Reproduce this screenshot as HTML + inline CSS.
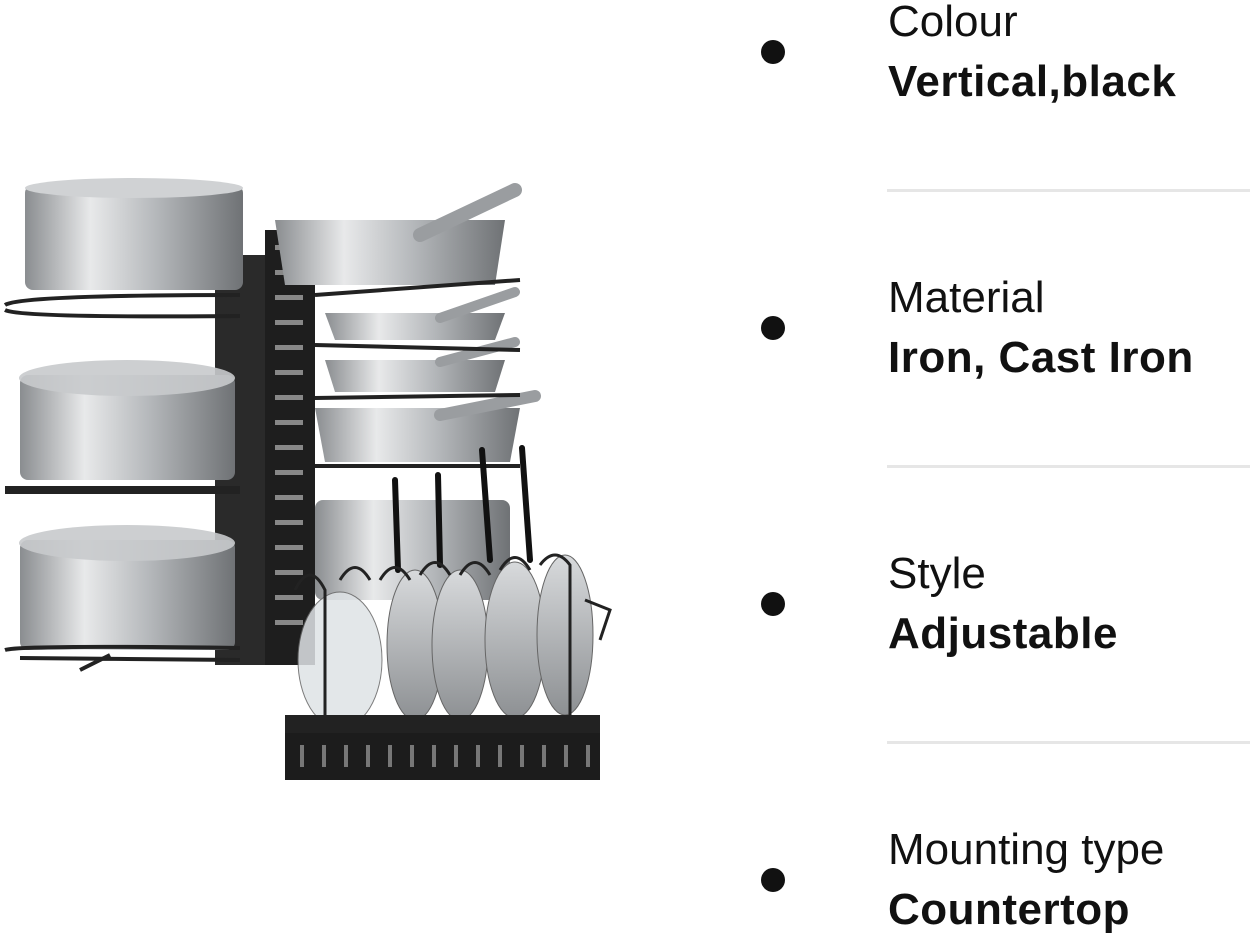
<!DOCTYPE html>
<html><head><meta charset="utf-8"><style>
html,body{margin:0;padding:0;background:#fff;width:1250px;height:935px;overflow:hidden;position:relative;font-family:"Liberation Sans",sans-serif;color:#111}
.b{position:absolute;left:761px;width:24px;height:24px;border-radius:50%;background:#111}
.t{position:absolute;left:888px;font-size:44px;line-height:1;white-space:nowrap}
.k{font-weight:bold;letter-spacing:0.5px}
.sep{position:absolute;left:887px;width:363px;height:3px;background:#e6e6e6}
svg{position:absolute;left:0;top:0}
</style></head><body>
<svg width="640" height="800" viewBox="0 0 640 800">
<defs>
<linearGradient id="m" x1="0" x2="1"><stop offset="0" stop-color="#8a8d90"/><stop offset="0.3" stop-color="#e8e9ea"/><stop offset="0.6" stop-color="#b5b8bb"/><stop offset="1" stop-color="#6f7275"/></linearGradient>
<linearGradient id="m2" x1="0" x2="0" y1="0" y2="1"><stop offset="0" stop-color="#d8dadc"/><stop offset="1" stop-color="#8d9093"/></linearGradient>
</defs>
<rect x="215" y="255" width="50" height="410" fill="#2a2a2a"/>
<rect x="265" y="230" width="50" height="435" fill="#1e1e1e"/>
<g fill="#888">
<rect x="275" y="245" width="28" height="5"/><rect x="275" y="270" width="28" height="5"/><rect x="275" y="295" width="28" height="5"/><rect x="275" y="320" width="28" height="5"/><rect x="275" y="345" width="28" height="5"/><rect x="275" y="370" width="28" height="5"/><rect x="275" y="395" width="28" height="5"/><rect x="275" y="420" width="28" height="5"/><rect x="275" y="445" width="28" height="5"/><rect x="275" y="470" width="28" height="5"/><rect x="275" y="495" width="28" height="5"/><rect x="275" y="520" width="28" height="5"/><rect x="275" y="545" width="28" height="5"/><rect x="275" y="570" width="28" height="5"/><rect x="275" y="595" width="28" height="5"/><rect x="275" y="620" width="28" height="5"/>
</g>
<rect x="25" y="185" width="218" height="105" rx="8" fill="url(#m)"/>
<ellipse cx="134" cy="188" rx="109" ry="10" fill="#d0d2d4"/>
<rect x="20" y="375" width="215" height="105" rx="8" fill="url(#m)"/>
<ellipse cx="127" cy="378" rx="108" ry="18" fill="#c8cacc" opacity=".9"/>
<rect x="20" y="540" width="215" height="110" rx="8" fill="url(#m)"/>
<ellipse cx="127" cy="543" rx="108" ry="18" fill="#c8cacc" opacity=".9"/>
<g stroke="#222" stroke-width="4" fill="none">
<path d="M5 305 Q20 295 240 295 M5 310 Q20 318 240 316"/>
<path d="M5 488 L240 488 M5 492 L240 492"/>
<path d="M5 650 Q20 645 240 648 M20 658 L240 660 M80 670 L110 655"/>
</g>
<path d="M275 220 L505 220 L495 285 L285 285 Z" fill="url(#m)"/>
<path d="M420 235 L515 190" stroke="#9a9da0" stroke-width="14" stroke-linecap="round"/>
<path d="M325 313 L505 313 L495 340 L335 340 Z" fill="url(#m)"/>
<path d="M440 318 L515 292" stroke="#9a9da0" stroke-width="10" stroke-linecap="round"/>
<path d="M325 360 L505 360 L495 392 L335 392 Z" fill="url(#m)"/>
<path d="M440 362 L515 342" stroke="#9a9da0" stroke-width="10" stroke-linecap="round"/>
<path d="M315 408 L520 408 L510 462 L325 462 Z" fill="url(#m)"/>
<path d="M440 415 L535 396" stroke="#9a9da0" stroke-width="12" stroke-linecap="round"/>
<g stroke="#222" stroke-width="4" fill="none">
<path d="M315 295 L520 280 M315 345 L520 350 M315 398 L520 395 M315 466 L520 466"/>
</g>
<rect x="315" y="500" width="195" height="100" rx="8" fill="url(#m)"/>
<g fill="url(#m2)" stroke="#666" stroke-width="1">
<ellipse cx="340" cy="660" rx="42" ry="68" fill="#dfe3e6" opacity=".85"/>
<ellipse cx="415" cy="645" rx="28" ry="75"/>
<ellipse cx="460" cy="645" rx="28" ry="75"/>
<ellipse cx="515" cy="640" rx="30" ry="78"/>
<ellipse cx="565" cy="635" rx="28" ry="80"/>
</g>
<g stroke="#111" stroke-width="6" stroke-linecap="round">
<path d="M395 480 L398 570 M438 475 L440 565 M482 450 L490 560 M522 448 L530 560"/>
</g>
<g stroke="#222" stroke-width="3" fill="none">
<path d="M295 590 Q310 560 325 590 L325 715 M340 580 Q355 555 370 580 M380 580 Q395 555 410 580 M420 575 Q435 550 450 575 M460 575 Q475 550 490 575 M500 570 Q515 545 530 570 M540 565 Q555 545 570 565 L570 715 M585 600 L610 610 L600 640"/>
</g>
<rect x="285" y="715" width="315" height="18" fill="#222"/>
<rect x="285" y="733" width="315" height="47" fill="#1c1c1c"/>
<g fill="#777"><rect x="300" y="745" width="4" height="22"/><rect x="322" y="745" width="4" height="22"/><rect x="344" y="745" width="4" height="22"/><rect x="366" y="745" width="4" height="22"/><rect x="388" y="745" width="4" height="22"/><rect x="410" y="745" width="4" height="22"/><rect x="432" y="745" width="4" height="22"/><rect x="454" y="745" width="4" height="22"/><rect x="476" y="745" width="4" height="22"/><rect x="498" y="745" width="4" height="22"/><rect x="520" y="745" width="4" height="22"/><rect x="542" y="745" width="4" height="22"/><rect x="564" y="745" width="4" height="22"/><rect x="586" y="745" width="4" height="22"/></g>
</svg>

<div class="b" style="top:40px"></div>
<div class="t" style="top:0px">Colour</div>
<div class="t k" style="top:60px">Vertical,black</div>
<div class="sep" style="top:189px"></div>

<div class="b" style="top:316px"></div>
<div class="t" style="top:276px">Material</div>
<div class="t k" style="top:336px">Iron, Cast Iron</div>
<div class="sep" style="top:465px"></div>

<div class="b" style="top:592px"></div>
<div class="t" style="top:552px">Style</div>
<div class="t k" style="top:612px">Adjustable</div>
<div class="sep" style="top:741px"></div>

<div class="b" style="top:868px"></div>
<div class="t" style="top:828px">Mounting type</div>
<div class="t k" style="top:888px">Countertop</div>
</body></html>
